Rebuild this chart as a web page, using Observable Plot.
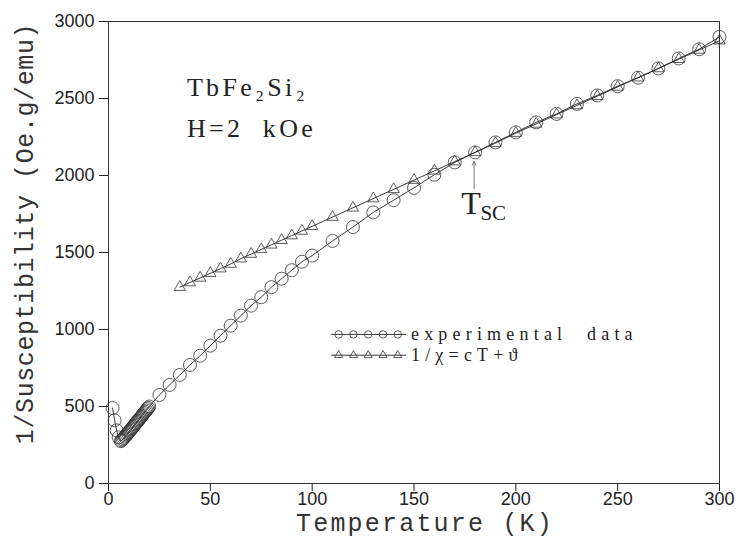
<!DOCTYPE html>
<html><head><meta charset="utf-8">
<script src="https://cdn.jsdelivr.net/npm/d3@7"></script>
<script src="https://cdn.jsdelivr.net/npm/@observablehq/plot@0.6"></script>
<style>
body{margin:0;background:#fff;}
#chart svg{display:block}
[aria-description="xlabel"]{letter-spacing:2.2px}
[aria-description="ylabel"]{letter-spacing:0.6px}
[aria-description="legend"]{letter-spacing:5.2px; word-spacing:10px}
[aria-description="note"]{letter-spacing:3.3px}
</style></head><body><div id="chart"></div>
<script>
// experimental data: temperature (K) and 1/susceptibility (Oe.g/emu)
const expT = [2,3,4,5,
  6,6.5,7,7.5,8,8.5,9,9.5,10,10.5,11,11.5,12,12.5,13,13.5,14,14.5,15,15.5,16,16.5,17,17.5,18,18.5,19,19.5,20,
  25,30,35,40,45,50,55,60,65,70,75,80,85,90,95,100,
  110,120,130,140,150,160,170,180,190,200,210,220,230,240,250,260,270,280,290,300];
const expV = [490,410,345,300,
  275,280,287,295,303,311,319,327,335,343,351,359,367,375,384,392,400,408,417,425,433,441,450,458,466,474,483,491,500,
  575,640,705,770,830,895,960,1025,1090,1155,1210,1275,1330,1385,1440,1480,
  1575,1665,1760,1840,1920,2005,2085,2150,2215,2280,2345,2400,2465,2520,2580,2635,2695,2760,2820,2900];
// Curie-Weiss fit 1/chi = cT + theta
const fitT = [35,40,45,50,55,60,65,70,75,80,85,90,95,100,
  110,120,130,140,150,160,170,180,190,200,210,220,230,240,250,260,270,280,290,300];
const fitV = [1275,1305,1335,1365,1395,1425,1460,1490,1520,1550,1580,1610,1640,1670,
  1730,1790,1850,1910,1970,2030,2090,2150,2210,2275,2335,2395,2455,2515,2575,2635,2695,2755,2815,2875];

const xTicks = [0,50,100,150,200,250,300];
const yTicks = [0,500,1000,1500,2000,2500,3000];
const xLabel = "Temperature (K)";
const yLabel = "1/Susceptibility (Oe.g/emu)";

// annotations (data coordinates)
const notes = [
  {text:"TbFe₂Si₂", T:38.5, v:2570},
  {text:"H=2\u00a0\u00a0kOe", T:38.5, v:2305}
];
const tsc = {T:179.5, from:1915, to:2090};
const tscText = [{text:"T", T:173.2, v:1815, size:32}, {text:"SC", T:182.6, v:1755, size:21}];

// legend (data coordinates)
const legendSampleT = [113,120.3,127.5,134.8,142];
const legendLineT = [109.5,146];
const legendRows = [
  {label:"experimental data", v:968, symbol:"circle", r:6.5},
  {label:"1/χ=cT+ϑ", v:833, symbol:"triangle", r:4.2}
];
const legendTextT = 148.5;

const exp = expT.map((t,i)=>({T:t, v:expV[i]}));
const fit = fitT.map((t,i)=>({T:t, v:fitV[i]}));
const legendDots = legendRows.flatMap(r => legendSampleT.map(t => ({T:t, v:r.v, symbol:r.symbol, r:r.r})));
const legendLines = legendRows.flatMap(r => legendLineT.map(t => ({T:t, v:r.v, key:r.label})));

const ink = "#222";
const chart = Plot.plot({
  width:739, height:543,
  marginLeft:108, marginRight:20, marginTop:21, marginBottom:60,
  x:{domain:[0,300], label:null},
  y:{domain:[0,3000], label:null},
  style:{fontFamily:"Liberation Sans, Arial, sans-serif", background:"#fff", color:ink},
  marks:[
    Plot.frame({stroke:"#333", strokeWidth:1}),
    Plot.axisX({ticks:xTicks, tickFormat:d=>String(d), tickSize:8, tickPadding:1, fontSize:18, label:null}),
    Plot.axisY({ticks:yTicks, tickFormat:d=>String(d), tickSize:9, tickPadding:5, fontSize:18, label:null}),
    Plot.text([xLabel], {frameAnchor:"bottom", textAnchor:"middle", lineAnchor:"middle", dy:39, dx:11, fontSize:25, fontFamily:"Liberation Mono, monospace", fill:"#333", ariaDescription:"xlabel"}),
    Plot.text([yLabel], {frameAnchor:"left", textAnchor:"middle", lineAnchor:"middle", dx:-84, dy:-19, rotate:-90, fontSize:25, fontFamily:"Liberation Mono, monospace", fill:"#333", ariaDescription:"ylabel"}),
    Plot.line(fit, {x:"T", y:"v", stroke:ink, strokeWidth:0.9}),
    Plot.line(exp, {x:"T", y:"v", stroke:ink, strokeWidth:0.9}),
    Plot.dot(fit, {x:"T", y:"v", symbol:"triangle", r:4.2, stroke:"#333", strokeWidth:0.8, fill:"none"}),
    Plot.dot(exp, {x:"T", y:"v", r:6.5, stroke:"#333", strokeWidth:0.8, fill:"none"}),
    Plot.text(notes, {x:"T", y:"v", text:"text", textAnchor:"start", fontSize:26, fontFamily:"Liberation Serif, DejaVu Serif, serif", fill:ink, ariaDescription:"note"}),
    Plot.arrow([tsc], {x1:"T", x2:"T", y1:"from", y2:"to", headLength:7, stroke:"#555", strokeWidth:0.8}),
    Plot.text(tscText, {x:"T", y:"v", text:"text", textAnchor:"start", fontSize:d=>d.size, fontFamily:"Liberation Serif, DejaVu Serif, serif", fill:ink}),
    Plot.line(legendLines, {x:"T", y:"v", z:"key", stroke:ink, strokeWidth:0.9}),
    Plot.dot(legendDots, {x:"T", y:"v", symbol:"symbol", r:"r", stroke:"#333", strokeWidth:0.8, fill:"none"}),
    Plot.text(legendRows, {x:()=>legendTextT, y:"v", text:"label", textAnchor:"start", fontSize:18, fontFamily:"Liberation Serif, DejaVu Serif, serif", fill:ink, ariaDescription:"legend"})
  ]
});
document.getElementById("chart").appendChild(chart);
</script>
</body></html>
